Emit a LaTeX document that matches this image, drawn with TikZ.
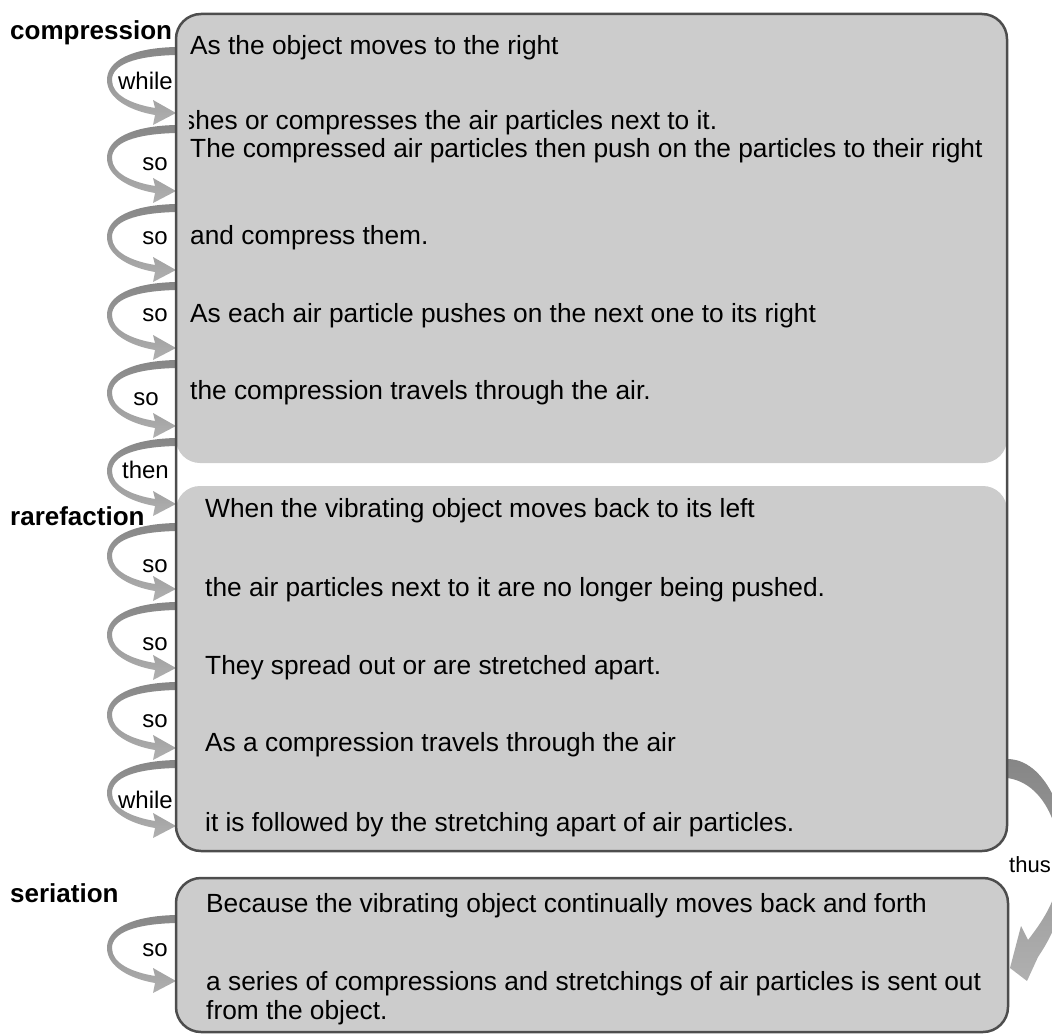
\documentclass[tikz,border=0pt]{standalone}
\usepackage{fontspec}
\setmainfont{Liberation Sans}
\definecolor{boxfill}{HTML}{CCCCCC}
\definecolor{boxline}{HTML}{4D4D4D}
\definecolor{ribtop}{HTML}{868686}
\definecolor{ribbot}{HTML}{B0B0B0}
\tikzset{
  body/.style={anchor=base west, inner sep=0pt, font=\fontsize{26.3}{30}\selectfont},
  tag/.style={anchor=base east, inner sep=0pt, font=\fontsize{24}{28}\selectfont},
  heading/.style={anchor=base west, inner sep=0pt, font=\fontsize{26}{30}\selectfont\bfseries},
  panel/.style={draw=boxline, line width=2.5pt, rounded corners=25pt},
  ribbon/.style={top color=ribtop, bottom color=ribbot, draw=none},
}
% curved ribbon arrow leaving the panel's left edge at height #1 and coming back into it
\newcommand\loopribbon[1]{%
  \shade[ribbon, shift={(176,#1)}]
    (0,0) .. controls (-45,1) and (-69,14) .. (-69,33)
    .. controls (-69,52) and (-45,64) .. (-21,68)
    -- (-23,78) -- (0,66) -- (-23,53) -- (-21,61)
    .. controls (-45,57) and (-64,48) .. (-64,33)
    .. controls (-64,18) and (-42,9) .. (0,8) -- cycle;}
\begin{document}
\begin{tikzpicture}[x=1pt,y=-1pt]
\useasboundingbox (0,0) rectangle (1052,1035);
\begin{scope}
\clip (0,0) rectangle (1052,1035);

% panel backgrounds
\fill[boxfill, rounded corners=24pt] (176,14) rectangle (1007,463);
\fill[boxfill, rounded corners=24pt] (176,486) rectangle (1007,851);

% loop arrows
\foreach \yy in {47,125,204,282,360,438,523,602,682,760,915} {\loopribbon{\yy}}

% "thus" arrow from the upper panel to the lower one
\shade[ribbon]
  (1007,759) .. controls (1045,759) and (1068,815) .. (1068,862)
  .. controls (1068,900) and (1055,932) .. (1038,957)
  -- (1027,981) -- (1010,968) -- (1021,926) -- (1028,940)
  .. controls (1045,918) and (1060,895) .. (1060,862)
  .. controls (1060,820) and (1040,782) .. (1007,778) -- cycle;

% panel outlines
\draw[panel] (176,14) rectangle (1007,851);
\draw[panel, fill=boxfill] (176,878) rectangle (1008,1032);

% headings
\node[heading] (hcomp) at (10,40) {compression};
\node[heading] (hrare) at (10,525) {rarefaction};
\node[heading] (hseri) at (10,902) {seriation};

% compression text
\node[body] (c1) at (190,55) {As the object moves to the right};
\begin{scope}
  \clip (189,100) rectangle (1000,140);
  \node[body] (c2) at (182,130) {shes or compresses the air particles next to it.};
\end{scope}
\node[body] (c3) at (190,158) {The compressed air particles then push on the particles to their right};
\node[body] (c4) at (190,244) {and compress them.};
\node[body] (c5) at (190,322) {As each air particle pushes on the next one to its right};
\node[body] (c6) at (190,399) {the compression travels through the air.};

% rarefaction text
\node[body] (r1) at (205,517) {When the vibrating object moves back to its left};
\node[body] (r2) at (205,596) {the air particles next to it are no longer being pushed.};
\node[body] (r3) at (205,674) {They spread out or are stretched apart.};
\node[body] (r4) at (205,751) {As a compression travels through the air};
\node[body] (r5) at (205,831) {it is followed by the stretching apart of air particles.};

% seriation text
\node[body] (s1) at (206,912) {Because the vibrating object continually moves back and forth};
\node[body] (s2) at (206,990) {a series of compressions and stretchings of air particles is sent out};
\node[body] (s3) at (206,1019) {from the object.};

% arrow labels
\node[tag] (l1) at (173,90) {while};
\node[tag] (l2) at (168,171) {so};
\node[tag] (l3) at (168,244) {so};
\node[tag] (l4) at (168,321) {so};
\node[tag] (l5) at (159,405) {so};
\node[tag] (l6) at (169,478) {then};
\node[tag] (l7) at (168,572) {so};
\node[tag] (l8) at (168,650) {so};
\node[tag] (l9) at (168,727) {so};
\node[tag] (l10) at (173,808) {while};
\node[tag] (l11) at (168,956) {so};
\node[tag, anchor=base west, font=\fontsize{22}{26}\selectfont] (l12) at (1009,872) {thus};
\end{scope}
\end{tikzpicture}
\end{document}
